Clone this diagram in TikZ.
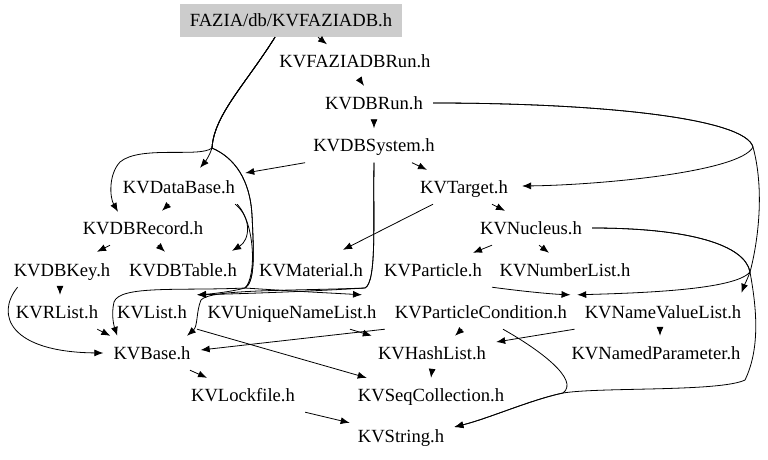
\documentclass[tikz,border=0pt]{standalone}
\usepackage{fontspec}
\setmainfont{Liberation Serif}
\usetikzlibrary{arrows.meta,calc}
\definecolor{hdrgrey}{RGB}{204,204,204}

\begin{document}
\begin{tikzpicture}[x=1pt, y=-1pt,
	file/.style={inner xsep=10pt, inner ysep=0pt, minimum height=34pt, text height=12.5pt, text depth=0pt, font=\fontsize{18.6pt}{22pt}\selectfont},
	hdr/.style={file, fill=hdrgrey, minimum width=222pt, minimum height=33pt},
	dep/.style={line width=0.8pt, -{Latex[length=9pt,width=7pt]}}]
	\useasboundingbox (0,0) rectangle (768,459);
	% Nodes (one per header file):
	\node[hdr] (fazia) at (291,20.5) {FAZIA/db/KVFAZIADB.h};
	\node[file] (faziarun) at (355,61.5) {KVFAZIADBRun.h};
	\node[file] (dbrun) at (374,103) {KVDBRun.h};
	\node[file] (dbsystem) at (374,145.5) {KVDBSystem.h};
	\node[file] (database) at (179,187) {KVDataBase.h};
	\node[file] (target) at (464,187) {KVTarget.h};
	\node[file] (dbrecord) at (143,228) {KVDBRecord.h};
	\node[file] (nucleus) at (531,228) {KVNucleus.h};
	\node[file] (dbkey) at (62,270) {KVDBKey.h};
	\node[file] (dbtable) at (183,270) {KVDBTable.h};
	\node[file] (material) at (311,270) {KVMaterial.h};
	\node[file] (particle) at (433,270) {KVParticle.h};
	\node[file] (numberlist) at (565,270) {KVNumberList.h};
	\node[file] (rlist) at (57,312) {KVRList.h};
	\node[file] (list) at (152,312) {KVList.h};
	\node[file] (uniquenamelist) at (292,312) {KVUniqueNameList.h};
	\node[file] (particlecondition) at (481,312) {KVParticleCondition.h};
	\node[file] (namevaluelist) at (663,312) {KVNameValueList.h};
	\node[file] (base) at (152,353) {KVBase.h};
	\node[file] (hashlist) at (432,353) {KVHashList.h};
	\node[file] (namedparameter) at (656,353) {KVNamedParameter.h};
	\node[file] (lockfile) at (243,395) {KVLockfile.h};
	\node[file] (seqcollection) at (431,395) {KVSeqCollection.h};
	\node[file] (string) at (401,436) {KVString.h};
	% Include arrows:
	\draw[dep] ($(fazia.south)+(27,0)$) -- ($(faziarun.north)+(-28,0)$);
	\draw[dep] ($(faziarun.south)+(4,0)$) -- ($(dbrun.north)+(-10,0)$);
	\draw[dep] (dbrun.south) -- (dbsystem.north);
	\draw[dep] ($(fazia.south)+(-16,0)$) .. controls (245,85) and (214,115) .. (212,148) .. controls (210,155) and (205,162) .. ($(database.north)+(21,-2)$);
	\draw[dep] ($(fazia.south)+(-16,0)$) .. controls (245,85) and (214,115) .. (212,148) .. controls (200,158) and (140,145) .. (120,162) .. controls (108,175) and (110,198) .. ($(dbrecord.north)+(-25,1)$);
	\draw[dep] ($(fazia.south)+(-16,0)$) .. controls (245,85) and (214,115) .. (212,148) .. controls (235,158) and (250,180) .. (252,215) .. controls (254,255) and (255,282) .. (245,288) .. controls (230,292) and (210,294) .. (list.north east);
	\draw[dep] ($(fazia.south)+(-16,0)$) .. controls (245,85) and (214,115) .. (212,148) .. controls (235,158) and (250,180) .. (252,215) .. controls (254,255) and (255,282) .. (245,288) .. controls (290,291) and (330,293) .. ($(uniquenamelist.north)+(70,0)$);
	\draw[dep] ($(database.south)+(-10,0)$) -- ($(dbrecord.north)+(19,0)$);
	\draw[dep] ($(database.south east)+(-10,0)$) .. controls (252,218) and (250,240) .. ($(dbtable.north east)+(-15,-2)$);
	\draw[dep] ($(database.south east)+(-8,0)$) .. controls (256,225) and (256,278) .. (245,288) .. controls (180,291) and (120,285) .. (114,302) .. controls (111,315) and (114,326) .. ($(base.north west)+(14,0)$);
	\draw[dep] ($(dbsystem.south west)+(2,0)$) -- ($(database.east)+(0,-14)$);
	\draw[dep] ($(dbsystem.south)+(38,0)$) -- ($(target.north)+(-37,0)$);
	\draw[dep] (dbsystem.south) .. controls (373,220) and (377,282) .. (365,288) .. controls (300,292) and (230,294) .. (list.north east);
	\draw[dep] (dbsystem.south) .. controls (373,220) and (377,282) .. (365,288) .. controls (290,291) and (210,289) .. (201,300) .. controls (196,312) and (198,326) .. ($(base.north)+(35,0)$);
	\draw[dep] (dbrun.east) .. controls (600,103) and (745,118) .. (753,147) .. controls (740,172) and (600,185) .. ($(target.east)+(4,-1)$);
	\draw[dep] (dbrun.east) .. controls (600,103) and (745,118) .. (753,147) .. controls (766,195) and (756,250) .. (750,272) .. controls (747,280) and (744,286) .. ($(namevaluelist.north east)+(-10,-2)$);
	\draw[dep] (nucleus.east) .. controls (690,228) and (745,245) .. (750,272) .. controls (735,290) and (640,293) .. (particlecondition.north east);
	\draw[dep] (nucleus.east) .. controls (690,228) and (745,245) .. (750,272) .. controls (755,300) and (762,345) .. (745,380) .. controls (720,392) and (600,387) .. (563,393) .. controls (530,400) and (490,418) .. ($(string.east)+(0,-9)$);
	\draw[dep] ($(particlecondition.south)+(22,0)$) .. controls (540,350) and (580,380) .. (563,393) .. controls (530,400) and (490,418) .. ($(string.east)+(0,-9)$);
	\draw[dep] (particlecondition.south west) -- ($(base.east)+(0,-3)$);
	\draw[dep] ($(particlecondition.south)+(-19,0)$) -- ($(hashlist.north)+(23,0)$);
	\draw[dep] ($(target.south)+(-31,0)$) -- ($(material.north)+(32,-3)$);
	\draw[dep] ($(target.south)+(28,0)$) -- ($(nucleus.north)+(-26,0)$);
	\draw[dep] ($(nucleus.south)+(-39,0)$) -- ($(particle.north)+(40,0)$);
	\draw[dep] ($(nucleus.south)+(8,0)$) -- ($(numberlist.north)+(-16,0)$);
	\draw[dep] (particle.south east) .. controls (520,291) and (550,294) .. ($(namevaluelist.north west)+(-4,0)$);
	\draw[dep] ($(dbrecord.south)+(-33,0)$) -- ($(dbkey.north)+(35,-1)$);
	\draw[dep] ($(dbrecord.south)+(15,0)$) -- ($(dbtable.north)+(-18,-1)$);
	\draw[dep] ($(dbkey.south)+(-2,0)$) -- ($(rlist.north)+(3,0)$);
	\draw[dep] ($(dbkey.south west)+(14,0)$) .. controls (-5,315) and (10,352) .. (base.west);
	\draw[dep] ($(rlist.south east)+(-11,0)$) -- ($(base.north west)+(7,0)$);
	\draw[dep] (list.south east) -- ($(seqcollection.north west)+(19,0)$);
	\draw[dep] ($(uniquenamelist.south)+(58,0)$) -- ($(hashlist.north west)+(4,0)$);
	\draw[dep] (namevaluelist.south west) -- ($(hashlist.east)+(0,-11)$);
	\draw[dep] ($(namevaluelist.south)+(-3,0)$) -- ($(namedparameter.north)+(4,0)$);
	\draw[dep] (hashlist.south) -- (seqcollection.north);
	\draw[dep] ($(base.south)+(38,0)$) -- ($(lockfile.north)+(-36,0)$);
	\draw[dep] (lockfile.south east) -- ($(string.north west)+(2,4)$);
\end{tikzpicture}
\end{document}
